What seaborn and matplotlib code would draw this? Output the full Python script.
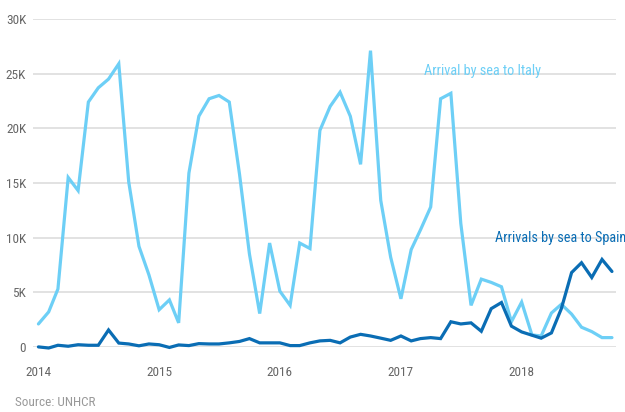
import pandas as pd
import seaborn as sns
import matplotlib.pyplot as plt

sns.set_theme(style='white')
plt.rcParams['font.family'] = ['Roboto Condensed', 'Liberation Sans Narrow', 'DejaVu Sans']

# monthly arrivals, Jan 2014 - Oct 2018
months = pd.date_range('2014-01-01', periods=58, freq='MS')

italy = [
    2100, 3200, 5300, 15500, 14300, 22400, 23700, 24500, 25900, 15100, 9200, 6600,
    3400, 4300, 2200, 15900, 21100, 22700, 23000, 22400, 15800, 8500, 3050, 9500,
    5100, 3800, 9500, 9000, 19800, 22000, 23300, 21100, 16700, 27100, 13400, 8200,
    4400, 8900, 10700, 12800, 22700, 23200, 11300, 3800, 6200, 5900, 5500, 2300,
    4100, 1100, 1000, 3100, 3900, 3000, 1800, 1400, 850, 850,
]

spain = [
    0, -100, 150, 60, 200, 150, 150, 1550, 350, 270, 100, 270,
    200, -50, 180, 120, 300, 270, 270, 370, 500, 760, 370, 370,
    370, 120, 120, 370, 550, 600, 370, 900, 1150, 1000, 800, 600,
    1000, 550, 760, 850, 760, 2300, 2100, 2200, 1430, 3500, 4060, 1900,
    1370, 1070, 800, 1280, 3500, 6800, 7700, 6350, 8000, 6900,
]

year_ticks = pd.to_datetime(['2014-01-01', '2015-01-01', '2016-01-01', '2017-01-01', '2018-01-01'])
year_labels = ['2014', '2015', '2016', '2017', '2018']
y_ticks = [0, 5000, 10000, 15000, 20000, 25000, 30000]
y_labels = ['0', '5K', '10K', '15K', '20K', '25K', '30K']

italy_color = '#6dcff6'
spain_color = '#0a6db4'

df = pd.DataFrame({'month': list(months) * 2,
                   'arrivals': italy + spain,
                   'route': ['Italy'] * len(italy) + ['Spain'] * len(spain)})

fig = plt.figure(figsize=(6.25, 4.12), dpi=100)
ax = fig.add_axes([0.053, 0.158, 0.933, 0.796])

sns.lineplot(data=df, x='month', y='arrivals', hue='route',
             palette={'Italy': italy_color, 'Spain': spain_color},
             linewidth=2.3, legend=False, ax=ax)
for line in ax.lines:
    line.set_clip_on(False)
    line.set_solid_joinstyle('miter')

ax.set_xlim(months[0] - pd.Timedelta(days=16), months[-1] + pd.Timedelta(days=13))
ax.set_ylim(0, 30000)
ax.set_yticks(y_ticks)
ax.set_yticklabels(y_labels)
ax.set_xticks(year_ticks)
ax.set_xticklabels(year_labels)
ax.set_xlabel('')
ax.set_ylabel('')
ax.grid(axis='y', color='#dddddd', linewidth=1.2)
ax.set_axisbelow(True)
sns.despine(ax=ax, left=True, bottom=True)
ax.tick_params(axis='y', length=0, pad=5, labelsize=9.5, labelcolor='#666666')
ax.tick_params(axis='x', length=0, pad=14, labelsize=9.5, labelcolor='#666666')

ax.text(pd.Timestamp('2017-03-13'), 24900, 'Arrival by sea to Italy',
        color=italy_color, fontsize=10.3, ha='left', va='baseline')
ax.text(pd.Timestamp('2017-10-13'), 10000, 'Arrivals by sea to Spain',
        color=spain_color, fontsize=10.3, ha='left', va='center')

fig.text(0.024, 0.008, 'Source: UNHCR', color='#999999', fontsize=9.5,
         ha='left', va='bottom')

fig.savefig('out.png', dpi=100)
